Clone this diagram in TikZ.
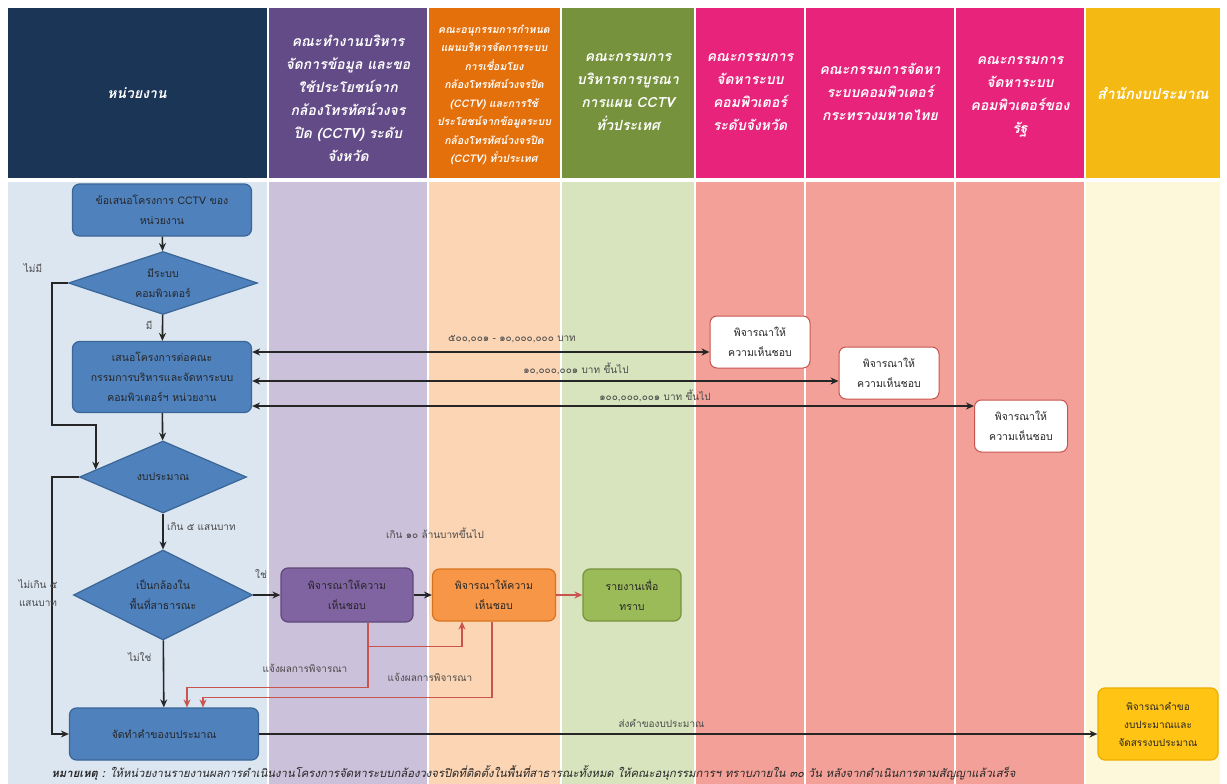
\documentclass[tikz,border=0pt]{standalone}
\usepackage{fontspec}
\newfontfamily\thai[Script=Thai]{Loma}
\usetikzlibrary{shapes.geometric}
\usetikzlibrary{arrows.meta}
\usetikzlibrary{positioning}
\usetikzlibrary{calc}

\definecolor{headnavy}{HTML}{1B3556}
\definecolor{headpurple}{HTML}{634B87}
\definecolor{headorange}{HTML}{E4700C}
\definecolor{headgreen}{HTML}{76923C}
\definecolor{headpink}{HTML}{E7237B}
\definecolor{headyellow}{HTML}{F5B914}
\definecolor{lanenavy}{HTML}{DCE6F1}
\definecolor{lanepurple}{HTML}{CCC1DA}
\definecolor{laneorange}{HTML}{FCD5B4}
\definecolor{lanegreen}{HTML}{D8E4BD}
\definecolor{lanepink}{HTML}{F3A198}
\definecolor{laneyellow}{HTML}{FEF8DB}
\definecolor{nodeblue}{HTML}{4F81BD}
\definecolor{nodeblueline}{HTML}{3A6597}
\definecolor{nodepurple}{HTML}{8064A2}
\definecolor{nodepurpleline}{HTML}{5F497A}
\definecolor{nodeorange}{HTML}{F79646}
\definecolor{nodeorangeline}{HTML}{D8731F}
\definecolor{nodegreen}{HTML}{9BBB59}
\definecolor{nodegreenline}{HTML}{76923C}
\definecolor{nodeyellow}{HTML}{FFC414}
\definecolor{nodeyellowline}{HTML}{EAAE00}
\definecolor{replyred}{HTML}{C9534E}
\definecolor{labelgrey}{HTML}{4A4A4A}

\begin{document}
\begin{tikzpicture}[x=1pt,y=-1pt]
    \tikzset{
      >={Stealth[length=8pt,width=7pt]},
      lanetitle/.style={text=white, align=center, font=\thai\bfseries\itshape\fontsize{14}{23}\selectfont},
      flowbox/.style={rectangle, rounded corners=7pt, draw, line width=1.2pt, align=center, text=black!85, font=\thai\fontsize{10.5}{20}\selectfont},
      bluebox/.style={flowbox, fill=nodeblue, draw=nodeblueline},
      purplebox/.style={flowbox, fill=nodepurple, draw=nodepurpleline, minimum width=132pt, minimum height=54pt},
      orangebox/.style={flowbox, fill=nodeorange, draw=nodeorangeline, minimum width=123pt, minimum height=52pt},
      greenbox/.style={flowbox, fill=nodegreen, draw=nodegreenline, minimum width=98pt, minimum height=52pt},
      yellowbox/.style={flowbox, fill=nodeyellow, draw=nodeyellowline, minimum width=120pt, minimum height=72pt, font=\thai\fontsize{10}{18}\selectfont},
      whitebox/.style={flowbox, fill=white, draw=replyred, line width=1pt, minimum width=100pt, minimum height=52pt},
      decision/.style={diamond, aspect=3, inner sep=0pt, draw=nodeblueline, fill=nodeblue, line width=1.2pt, align=center, text=black!85, font=\thai\fontsize{10.5}{20}\selectfont},
      flow/.style={->, line width=1.6pt, black!85},
      reply/.style={->, line width=1.4pt, replyred},
      note/.style={text=labelgrey, align=center, font=\thai\fontsize{10}{18}\selectfont},
    }
    \useasboundingbox (0,0) rectangle (1227,784);

    \fill[headnavy] (8,8) rectangle (267,178);
    \fill[headpurple] (269,8) rectangle (427,178);
    \fill[headorange] (429,8) rectangle (560,178);
    \fill[headgreen] (562,8) rectangle (694,178);
    \fill[headpink] (696,8) rectangle (804,178);
    \fill[headpink] (806,8) rectangle (954,178);
    \fill[headpink] (956,8) rectangle (1084,178);
    \fill[headyellow] (1086,8) rectangle (1220,178);

    \fill[lanenavy] (8,182) rectangle (267,784);
    \fill[lanepurple] (269,182) rectangle (427,784);
    \fill[laneorange] (429,182) rectangle (560,784);
    \fill[lanegreen] (562,182) rectangle (694,784);
    \fill[lanepink] (696,182) rectangle (804,784);
    \fill[lanepink] (806,182) rectangle (954,784);
    \fill[lanepink] (956,182) rectangle (1084,784);
    \fill[laneyellow] (1086,182) rectangle (1220,784);

    \node[lanetitle] (unit) at (137,93) {หน่วยงาน};
    \node[lanetitle] (wgprov) at (348,98) {คณะทำงานบริหาร\\จัดการข้อมูล และขอ\\ใช้ประโยชน์จาก\\กล้องโทรทัศน์วงจร\\ปิด (CCTV) ระดับ\\จังหวัด};
    \node[lanetitle, font=\thai\bfseries\itshape\fontsize{10.5}{18.5}\selectfont] (subcom) at (494,95) {คณะอนุกรรมการกำหนด\\แผนบริหารจัดการระบบ\\การเชื่อมโยง\\กล้องโทรทัศน์วงจรปิด\\(CCTV) และการใช้\\ประโยชน์จากข้อมูลระบบ\\กล้องโทรทัศน์วงจรปิด\\(CCTV) ทั่วประเทศ};
    \node[lanetitle] (natcom) at (628,92) {คณะกรรมการ\\บริหารการบูรณา\\การแผน CCTV\\ทั่วประเทศ};
    \node[lanetitle] (provcom) at (750,92) {คณะกรรมการ\\จัดหาระบบ\\คอมพิวเตอร์\\ระดับจังหวัด};
    \node[lanetitle] (moicom) at (880,92) {คณะกรรมการจัดหา\\ระบบคอมพิวเตอร์\\กระทรวงมหาดไทย};
    \node[lanetitle] (statecom) at (1020,97) {คณะกรรมการ\\จัดหาระบบ\\คอมพิวเตอร์ของ\\รัฐ};
    \node[lanetitle, font=\thai\bfseries\itshape\fontsize{15}{20}\selectfont] (budgetoffice) at (1153,93) {สำนักงบประมาณ};

    \node[bluebox, minimum width=179pt, minimum height=52pt] (proposal) at (162,210) {ข้อเสนอโครงการ CCTV ของ\\หน่วยงาน};
    \node[decision, minimum width=189pt, minimum height=63pt] (hascomp) at (163,283) {มีระบบ\\คอมพิวเตอร์};
    \node[bluebox, minimum width=179pt, minimum height=71pt] (submit) at (162,377) {เสนอโครงการต่อคณะ\\กรรมการบริหารและจัดหาระบบ\\คอมพิวเตอร์ฯ หน่วยงาน};
    \node[decision, minimum width=167pt, minimum height=72pt] (budget) at (163,477) {งบประมาณ};
    \node[decision, minimum width=179pt, minimum height=90pt] (public) at (163,595) {เป็นกล้องใน\\พื้นที่สาธารณะ};
    \node[purplebox] (wgok) at (347,595) {พิจารณาให้ความ\\เห็นชอบ};
    \node[orangebox] (subok) at (494,595) {พิจารณาให้ความ\\เห็นชอบ};
    \node[greenbox] (report) at (632,595) {รายงานเพื่อ\\ทราบ};
    \node[bluebox, minimum width=189pt, minimum height=52pt] (request) at (164,734) {จัดทำคำของบประมาณ};
    \node[yellowbox] (allocate) at (1158,724) {พิจารณาคำขอ\\งบประมาณและ\\จัดสรรงบประมาณ};
    \node[whitebox] (provok) at (760,342) {พิจารณาให้\\ความเห็นชอบ};
    \node[whitebox] (moiok) at (889,373) {พิจารณาให้\\ความเห็นชอบ};
    \node[whitebox, minimum width=93pt] (stateok) at (1021,426) {พิจารณาให้\\ความเห็นชอบ};

    \coordinate (budgetin) at ($(budget.north)!0.8!(budget.west)$);

    \draw[flow] (proposal) -- (hascomp);
    \draw[flow] (hascomp) -- node[note, left, pos=0.4, xshift=-6pt] {มี} (submit);
    \draw[flow] (hascomp.west) -- ++(-16,0) -- ++(0,142) -| (budgetin);
    \draw[flow] (submit) -- (budget);
    \draw[flow] (budget) -- node[note, right, pos=0.35] {เกิน ๕ แสนบาท} (public);
    \draw[flow] (budget.west) -- ++(-27,0) |- (request.west);
    \draw[flow] (public) -- node[note, left, pos=0.25, xshift=-8pt] {ไม่ใช่} (request);
    \draw[flow] (public.east) -- node[note, above right, pos=0.0, yshift=12pt, xshift=-2pt] {ใช่} (wgok.west);
    \draw[flow] (wgok) -- (subok);
    \draw[reply] (subok) -- (report);
    \draw[reply] ([xshift=21pt]wgok.south) -- ++(0,65) -| ([xshift=23pt]request.north);
    \draw[reply] ([xshift=21pt]wgok.south) ++(0,24) -| ([xshift=-32pt]subok.south);
    \draw[reply] ([xshift=-2pt]subok.south) -- ++(0,76) -| ([xshift=39pt]request.north);
    \draw[flow] (request.east) -- node[note, above, pos=0.48, yshift=2pt] {ส่งคำของบประมาณ} (request.east -| allocate.west);

    \draw[flow, <->] ([yshift=25pt]submit.east) -- ([yshift=25pt]submit.east -| provok.west);
    \draw[flow, <->] ([yshift=-4pt]submit.east) -- ([yshift=-4pt]submit.east -| moiok.west);
    \draw[flow, <->] ([yshift=-29pt]submit.east) -- ([yshift=-29pt]submit.east -| stateok.west);

    \node[note] (nocomp) at (33,268) {ไม่มี};
    \node[note] (small) at (38,593) {ไม่เกิน ๕\\แสนบาท};
    \node[note] (large) at (435,533) {เกิน ๑๐ ล้านบาทขึ้นไป};
    \node[note] (wgreply) at (305,668) {แจ้งผลการพิจารณา};
    \node[note] (subreply) at (430,677) {แจ้งผลการพิจารณา};
    \node[note] (range1) at (512,339) {๕๐๐,๐๐๑ - ๑๐,๐๐๐,๐๐๐ บาท};
    \node[note] (range2) at (576,369) {๑๐,๐๐๐,๐๐๑ บาท ขึ้นไป};
    \node[note] (range3) at (655,396) {๑๐๐,๐๐๐,๐๐๑ บาท ขึ้นไป};

    \node[anchor=west, text=black!85, font=\thai\itshape\fontsize{11.3}{14}\selectfont] (remark) at (48,773) {\textbf{หมายเหตุ :} ให้หน่วยงานรายงานผลการดำเนินงานโครงการจัดหาระบบกล้องวงจรปิดที่ติดตั้งในพื้นที่สาธารณะทั้งหมด ให้คณะอนุกรรมการฯ ทราบภายใน ๓๐ วัน หลังจากดำเนินการตามสัญญาแล้วเสร็จ};
  \end{tikzpicture}
\end{document}
